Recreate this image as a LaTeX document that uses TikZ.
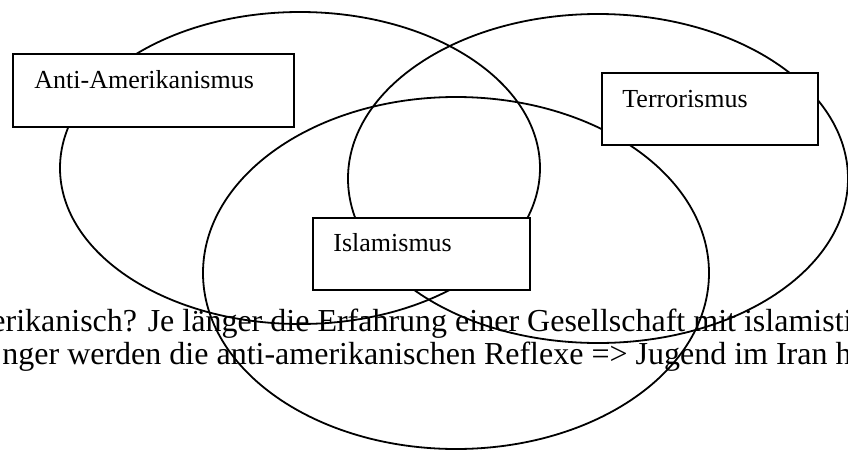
\documentclass[tikz,border=0pt]{standalone}
\usepackage{fontspec}
\setmainfont{Liberation Serif}
\begin{document}
\begin{tikzpicture}[x=0.5pt,y=-0.5pt,
  ring/.style={draw=black,line width=0.9pt},
  box/.style={draw=black,fill=white,line width=0.9pt,rectangle,inner sep=0pt,anchor=north west},
  lbl/.style={inner sep=0pt,anchor=base west,font=\fontsize{13pt}{15pt}\selectfont},
  bodytext/.style={inner sep=0pt,anchor=base west,font=\fontsize{16pt}{19pt}\selectfont}]
\useasboundingbox (0,0) rectangle (848,451);
\clip (0,0) rectangle (848,451);
% running text behind the diagram
\node[bodytext] (line1) at (-9,331) {erikanisch? Je länger die Erfahrung einer Gesellschaft mit islamisti};
\node[bodytext] (line2) at (2,364) {nger werden die anti-amerikanischen Reflexe => Jugend im Iran h};
% ellipses
\draw[ring] (300,168) ellipse [x radius=120pt, y radius=78pt];
\draw[ring] (598,178.5) ellipse [x radius=125pt, y radius=82.25pt];
\draw[ring] (456,273) ellipse [x radius=126.5pt, y radius=88pt];
% boxes
\node[box,minimum width=140.5pt,minimum height=36.5pt] (b1) at (12,53) {};
\node[lbl] (t1) at (34,88) {Anti-Amerikanismus};
\node[box,minimum width=108pt,minimum height=36pt] (b2) at (601,72) {};
\node[lbl] (t2) at (622,107) {Terrorismus};
\node[box,minimum width=108.5pt,minimum height=36pt] (b3) at (312,217) {};
\node[lbl] (t3) at (333,251) {Islamismus};
\end{tikzpicture}
\end{document}
